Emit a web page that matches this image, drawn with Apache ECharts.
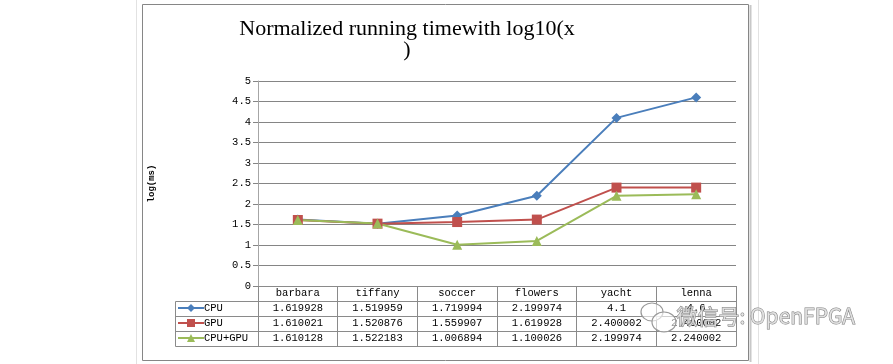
<!DOCTYPE html>
<html><head><meta charset="utf-8">
<script src="https://cdn.jsdelivr.net/npm/echarts@6/dist/echarts.min.js"></script>
<style>html,body{margin:0;padding:0;background:#fff}#c{width:893px;height:364px}</style>
</head><body><div id="c"></div>
<script>
const categories = ['barbara','tiffany','soccer','flowers','yacht','lenna'];
const cpu = [1.619928, 1.519959, 1.719994, 2.199974, 4.1, 4.6];
const gpu = [1.610021, 1.520876, 1.559907, 1.619928, 2.400002, 2.400002];
const cpuGpu = [1.610128, 1.522183, 1.006894, 1.100026, 2.199974, 2.240002];
const seriesNames = ['CPU', 'GPU', 'CPU+GPU'];
const titleText = 'Normalized running timewith log10(x\n)';
const yName = 'log(ms)';

const mono = 'Liberation Mono';
const gridLine = '#858585';
const tableLine = '#8a8a8a';
const colors = ['#4a7ebb', '#c0504d', '#9bbb59'];

const chart = echarts.init(document.getElementById('c'), null, {renderer: 'canvas'});
const rows = [cpu, gpu, cpuGpu];

function hline(x1, x2, y) {
  return {type: 'line', shape: {x1: x1, y1: y, x2: x2, y2: y}, style: {stroke: tableLine, lineWidth: 1}, silent: true};
}

chart.setOption({
  animation: false,
  backgroundColor: '#fff',
  title: {
    text: titleText,
    left: 402, top: 14, textAlign: 'center',
    textStyle: {fontFamily: 'Liberation Serif', fontSize: 22, fontWeight: 'normal', color: '#000', lineHeight: 21}
  },
  color: colors,
  grid: {left: 258, right: 157, top: 81, bottom: 78},
  legend: {
    data: seriesNames,
    orient: 'vertical',
    left: 177, top: 302, padding: 0,
    itemWidth: 26, itemHeight: 10, itemGap: 3,
    textStyle: {fontFamily: mono, fontSize: 10.5, color: '#000', lineHeight: 12, padding: [0,0,0,-5]}
  },
  xAxis: {
    type: 'category',
    data: categories,
    boundaryGap: true,
    axisLine: {show: true, lineStyle: {color: tableLine, width: 1}},
    axisTick: {show: true, length: 60, lineStyle: {color: tableLine, width: 1}},
    axisLabel: {
      interval: 0, margin: 0,
      formatter: function (v, i) {
        return '{n|' + v + '}\n' + rows.map(r => '{v|' + r[i] + '}').join('\n');
      },
      rich: {
        n: {fontFamily: mono, fontSize: 10.5, color: '#000', lineHeight: 15},
        v: {fontFamily: mono, fontSize: 10.5, color: '#000', lineHeight: 15}
      }
    }
  },
  yAxis: {
    type: 'value', min: 0, max: 5, interval: 0.5,
    name: yName, nameLocation: 'middle', nameGap: 102, nameRotate: 90,
    nameTextStyle: {fontFamily: mono, fontSize: 9, fontWeight: 'bold', color: '#000'},
    axisLine: {show: true, lineStyle: {color: '#a6a6a6', width: 1}},
    axisTick: {show: true, length: 5, lineStyle: {color: gridLine}},
    axisLabel: {fontFamily: mono, fontSize: 10.5, color: '#000', margin: 7},
    splitLine: {show: true, lineStyle: {color: gridLine, width: 1}}
  },
  series: [
    {name: seriesNames[0], type: 'line', data: cpu, symbol: 'diamond', symbolSize: 10,
     lineStyle: {width: 2, color: colors[0]}, itemStyle: {color: colors[0]}},
    {name: seriesNames[1], type: 'line', data: gpu, symbol: 'rect', symbolSize: 10,
     lineStyle: {width: 2, color: colors[1]}, itemStyle: {color: colors[1]}},
    {name: seriesNames[2], type: 'line', data: cpuGpu, symbol: 'triangle', symbolSize: 10,
     lineStyle: {width: 2, color: colors[2]}, itemStyle: {color: colors[2]}}
  ],
  graphic: [
    {type: 'line', shape: {x1: 136.5, y1: 0, x2: 136.5, y2: 364}, style: {stroke: '#e2e2e2', lineWidth: 1}, silent: true},
    {type: 'line', shape: {x1: 758.5, y1: 0, x2: 758.5, y2: 364}, style: {stroke: '#e2e2e2', lineWidth: 1}, silent: true},
    {type: 'rect', shape: {x: 142.5, y: 4.5, width: 606, height: 356}, style: {fill: 'none', stroke: '#868686', lineWidth: 1}, silent: true},
    {type: 'line', shape: {x1: 750.5, y1: 5, x2: 750.5, y2: 362}, style: {stroke: '#c8c8c8', lineWidth: 2}, silent: true},
    hline(175.5, 736.5, 301.5),
    hline(175.5, 736.5, 316.5),
    hline(175.5, 736.5, 331.5),
    hline(175.5, 736.5, 346.5),
    {type: 'line', shape: {x1: 175.5, y1: 301.5, x2: 175.5, y2: 346.5}, style: {stroke: tableLine, lineWidth: 1}, silent: true},
    {type: 'ellipse', shape: {cx: 652, cy: 312, rx: 11, ry: 9}, style: {fill: 'rgba(255,255,255,0.6)', stroke: '#999', lineWidth: 1.2}, silent: true, z: 100},
    {type: 'ellipse', shape: {cx: 664, cy: 322, rx: 12, ry: 10}, style: {fill: 'rgba(255,255,255,0.6)', stroke: '#999', lineWidth: 1.2}, silent: true, z: 100},
    {type: 'text', left: 676, top: 305, z: 100, silent: true,
     style: {text: '微信号: OpenFPGA', fontFamily: 'Noto Sans CJK SC', fontSize: 21, fill: 'rgba(225,225,225,0.85)', stroke: '#808080', lineWidth: 1}}
  ]
});
</script>
</body></html>
